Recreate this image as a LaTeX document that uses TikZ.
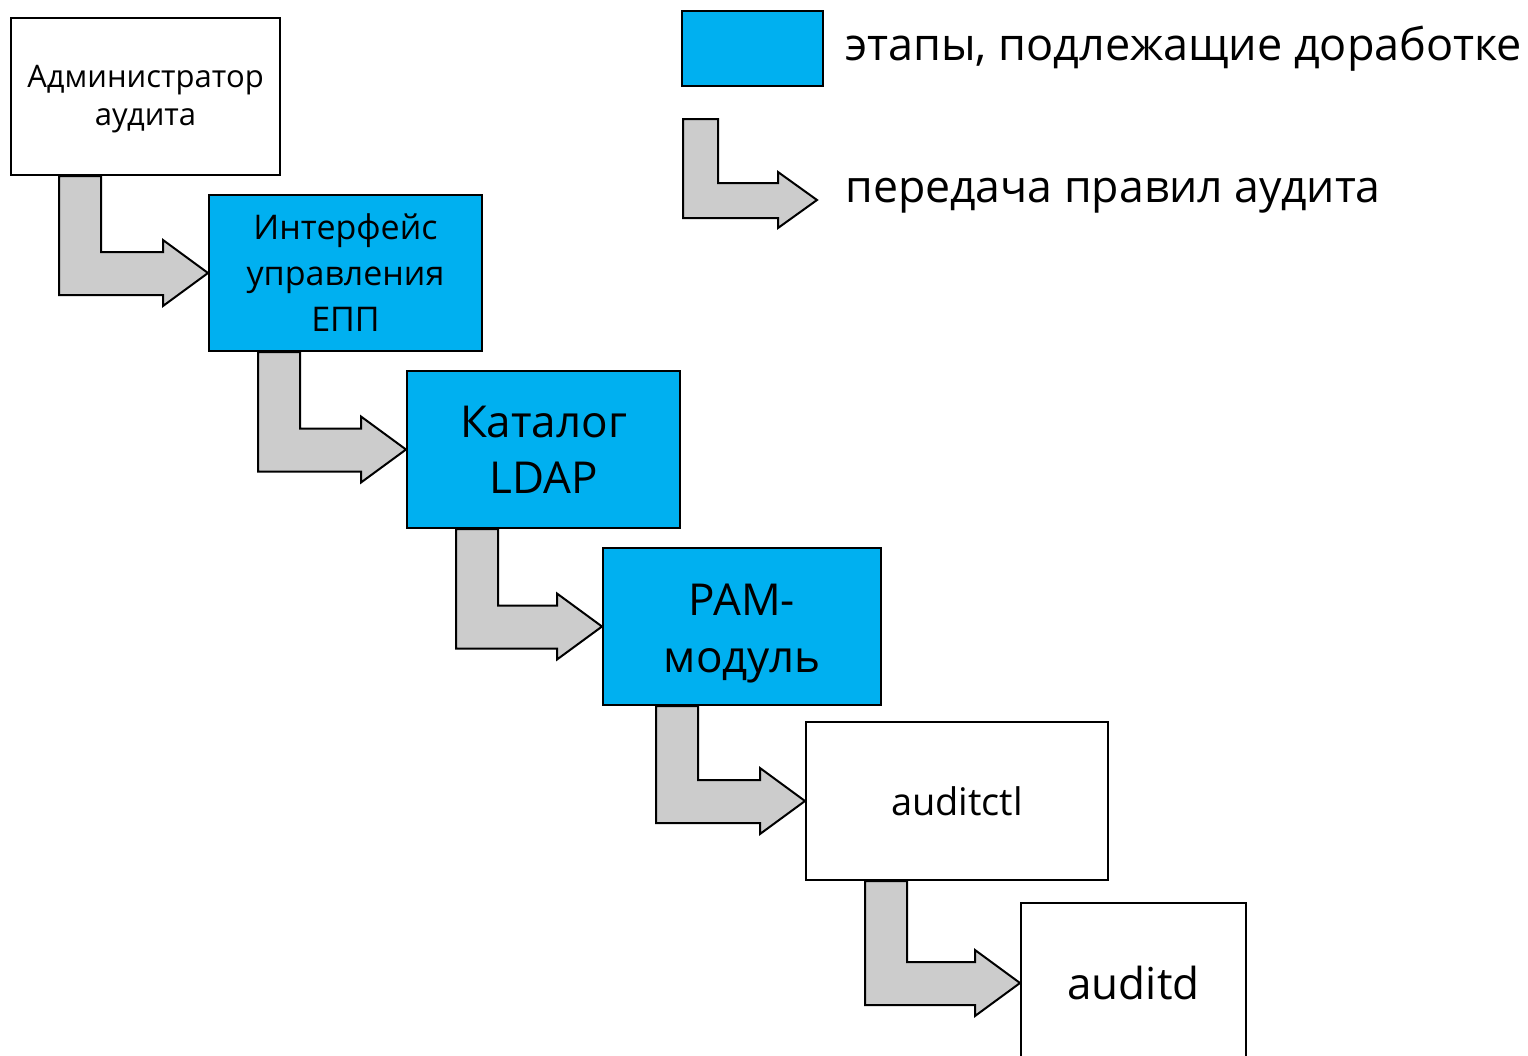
\documentclass[tikz,border=0pt]{standalone}
\usepackage{fontspec}
\setmainfont{Open Sans}
\usetikzlibrary{calc}
\definecolor{stageblue}{HTML}{00B0F0}
\definecolor{flowgray}{HTML}{CCCCCC}
\tikzset{
  box/.style={draw=black, line width=1pt, fill=white, inner sep=0pt, align=center, anchor=north west},
  bluebox/.style={box, fill=stageblue},
  boxtext/.style={inner sep=0pt, align=center},
  flow/.style={draw=black, line width=1pt, fill=flowgray, line join=miter},
}
% #1 from node, #2 to node, #3 stem offset from left side of #1 (px)
\newcommand\bentflow[3]{%
  \draw[flow] let \p1=(#1.south west), \p2=(#2.west) in
   (\x1+#3*0.5pt,\y1) -- (\x1+#3*0.5pt+21pt,\y1) -- (\x1+#3*0.5pt+21pt,\y2+10.5pt)
   -- (\x2-22.5pt,\y2+10.5pt) -- (\x2-22.5pt,\y2+16.5pt) -- (\x2,\y2)
   -- (\x2-22.5pt,\y2-16.5pt) -- (\x2-22.5pt,\y2-11pt) -- (\x1+#3*0.5pt,\y2-11pt) -- cycle;}
\begin{document}
\begin{tikzpicture}[x=0.5pt,y=-0.5pt]
\useasboundingbox[fill=white] (0,0) rectangle (1528,1056);
% stages
\node[box, minimum width=134.5pt, minimum height=78.5pt] (admin) at (10,17) {};
\node[boxtext, font=\fontsize{15.5}{19}\selectfont] (admintext) at ([yshift=-1.5pt]admin.center) {Администратор\\аудита};
\node[bluebox, minimum width=136.5pt, minimum height=78pt, font=\fontsize{17}{23}\selectfont] (epp) at (208,194) {Интерфейс\\управления\\ЕПП};
\node[bluebox, minimum width=136.5pt, minimum height=78.5pt, font=\fontsize{22}{28}\selectfont] (ldap) at (406,370) {Каталог\\LDAP};
\node[bluebox, minimum width=139pt, minimum height=78.5pt] (pam) at (602,547) {};
\node[boxtext, font=\fontsize{22}{28.5}\selectfont] (pamtext) at ([yshift=-3.5pt]pam.center) {PAM-\\модуль};
\node[box, minimum width=151pt, minimum height=79pt, font=\fontsize{19}{24}\selectfont] (ctl) at (805,721) {auditctl};
\node[box, minimum width=112.5pt, minimum height=80pt, font=\fontsize{22}{28}\selectfont] (auditd) at (1020,902) {auditd};
% flows
\bentflow{admin}{epp}{49}
\bentflow{epp}{ldap}{50}
\bentflow{ldap}{pam}{50}
\bentflow{pam}{ctl}{54}
\bentflow{ctl}{auditd}{60}
% legend
\node[bluebox, minimum width=70.5pt, minimum height=37.5pt] (legblue) at (681,10) {};
\node[anchor=west, inner sep=0pt, font=\fontsize{22.5}{27}\selectfont] (legbluetext) at (845,49) {этапы, подлежащие доработке};
\draw[flow] (683,119) -- (718,119) -- (718,183) -- (778,183) -- (778,172) -- (817,200)
  -- (778,228) -- (778,218) -- (683,218) -- cycle;
\node[anchor=west, inner sep=0pt, font=\fontsize{22.3}{27}\selectfont] (legflowtext) at (845,196) {передача правил аудита};
\end{tikzpicture}
\end{document}
